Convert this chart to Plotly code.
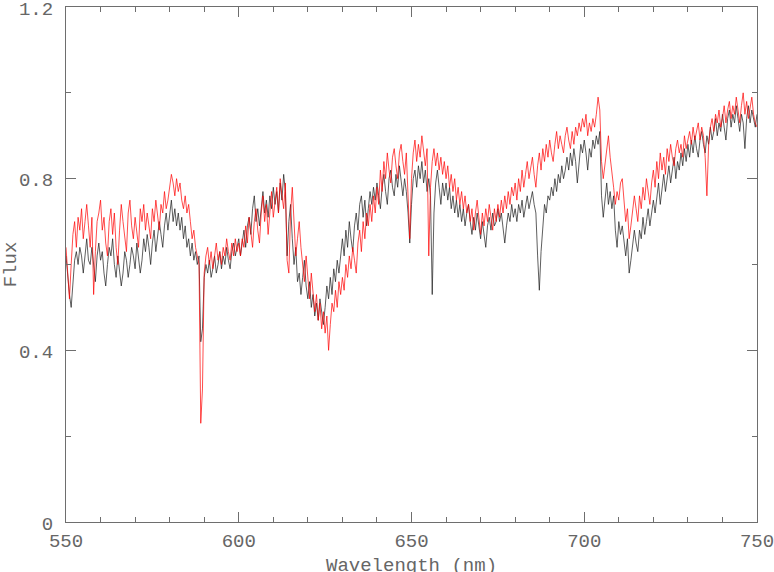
import numpy as np
import plotly.graph_objects as go

# wavelength grid (nm), 0.5 nm sampling
wavelength = np.arange(550, 750.25, 0.5)

# observed spectrum (black)
flux_obs = [
    0.62, 0.57, 0.53, 0.50, 0.55, 0.61, 0.63, 0.60, 0.64, 0.62,
    0.58, 0.63, 0.66, 0.61, 0.60, 0.64, 0.59, 0.56, 0.62, 0.65,
    0.61, 0.63, 0.58, 0.55, 0.60, 0.64, 0.62, 0.66, 0.60, 0.57,
    0.62, 0.59, 0.55, 0.58, 0.63, 0.61, 0.57, 0.60, 0.64, 0.62,
    0.59, 0.65, 0.62, 0.58, 0.61, 0.66, 0.63, 0.67, 0.64, 0.60,
    0.65, 0.68, 0.63, 0.66, 0.70, 0.67, 0.64, 0.69, 0.72, 0.68,
    0.71, 0.75, 0.70, 0.73, 0.69, 0.72, 0.68, 0.71, 0.66, 0.69,
    0.64, 0.66, 0.62, 0.65, 0.61, 0.63, 0.60, 0.62, 0.42, 0.45,
    0.57, 0.60, 0.58, 0.61, 0.57, 0.59, 0.62, 0.58, 0.60, 0.63,
    0.59, 0.62, 0.60, 0.64, 0.61, 0.59, 0.63, 0.65, 0.62, 0.64,
    0.66, 0.62, 0.65, 0.68, 0.64, 0.69, 0.71, 0.67, 0.73, 0.76,
    0.70, 0.73, 0.69, 0.74, 0.77, 0.72, 0.75, 0.71, 0.76, 0.73,
    0.78, 0.74, 0.77, 0.72, 0.79, 0.75, 0.81, 0.77, 0.62, 0.70,
    0.74, 0.66, 0.60, 0.64, 0.56, 0.58, 0.53, 0.57, 0.61, 0.55,
    0.52, 0.56, 0.50, 0.53, 0.48, 0.51, 0.47, 0.52, 0.49, 0.46,
    0.50, 0.55, 0.52, 0.57, 0.53, 0.59, 0.56, 0.61, 0.58, 0.63,
    0.66, 0.62, 0.68, 0.64, 0.70, 0.66, 0.63, 0.69, 0.72, 0.68,
    0.74, 0.76, 0.71, 0.75, 0.69, 0.73, 0.77, 0.74, 0.78, 0.75,
    0.79, 0.76, 0.73, 0.78, 0.81, 0.77, 0.74, 0.80, 0.82, 0.78,
    0.76, 0.81, 0.78, 0.83, 0.79, 0.76, 0.80, 0.77, 0.72, 0.65,
    0.74, 0.80, 0.82, 0.78, 0.83, 0.80, 0.84, 0.79, 0.82, 0.77,
    0.80, 0.76, 0.53, 0.72, 0.79, 0.82, 0.78, 0.74, 0.79, 0.76,
    0.79, 0.75, 0.78, 0.73, 0.76, 0.72, 0.75, 0.71, 0.74, 0.70,
    0.73, 0.69, 0.72, 0.74, 0.70, 0.67, 0.71, 0.68, 0.72, 0.69,
    0.66, 0.70, 0.67, 0.64, 0.69, 0.71, 0.68, 0.72, 0.69, 0.70,
    0.73, 0.70, 0.72, 0.68, 0.65, 0.69, 0.72, 0.70, 0.74, 0.71,
    0.73, 0.70, 0.74, 0.72, 0.75, 0.71, 0.74, 0.76, 0.73, 0.75,
    0.77, 0.74, 0.72, 0.62, 0.54, 0.63, 0.70, 0.74, 0.72, 0.76,
    0.75, 0.78, 0.76, 0.80, 0.77, 0.81, 0.79, 0.83, 0.80, 0.82,
    0.85, 0.82, 0.86, 0.83, 0.87, 0.84, 0.79, 0.83, 0.88, 0.86,
    0.89, 0.86, 0.82, 0.87, 0.85, 0.89, 0.87, 0.90, 0.88, 0.91,
    0.76, 0.71, 0.75, 0.79, 0.74, 0.77, 0.73, 0.76, 0.68, 0.64,
    0.70, 0.67, 0.69, 0.65, 0.62, 0.66, 0.58, 0.61, 0.64, 0.68,
    0.65, 0.63, 0.68, 0.66, 0.71, 0.67, 0.70, 0.73, 0.69, 0.72,
    0.75, 0.72, 0.76, 0.79, 0.74, 0.78, 0.81, 0.77, 0.80, 0.83,
    0.79, 0.82, 0.85, 0.80, 0.84, 0.82, 0.86, 0.83, 0.87, 0.84,
    0.88, 0.85, 0.89, 0.86, 0.90, 0.87, 0.85, 0.89, 0.91, 0.88,
    0.86, 0.90, 0.88, 0.92, 0.89, 0.91, 0.94, 0.90, 0.93, 0.91,
    0.95, 0.92, 0.89, 0.94, 0.96, 0.92, 0.95, 0.93, 0.97, 0.94,
    0.91, 0.95, 0.93, 0.87, 0.94, 0.97, 0.93, 0.96, 0.94, 0.92,
    0.95,
]

# model spectrum (red)
flux_model = [
    0.64, 0.58, 0.52, 0.60, 0.67, 0.70, 0.64, 0.71, 0.68, 0.73,
    0.66, 0.70, 0.74, 0.69, 0.64, 0.71, 0.53, 0.63, 0.70, 0.72,
    0.75, 0.68, 0.71, 0.65, 0.62, 0.70, 0.73, 0.67, 0.72, 0.64,
    0.60, 0.68, 0.74, 0.70, 0.66, 0.63, 0.72, 0.75, 0.69, 0.66,
    0.71, 0.67, 0.64, 0.73, 0.70, 0.74, 0.68, 0.72, 0.69, 0.66,
    0.73, 0.70, 0.75, 0.71, 0.68, 0.74, 0.72, 0.77, 0.73, 0.75,
    0.78, 0.81, 0.79, 0.76, 0.80, 0.77, 0.79, 0.75, 0.73, 0.76,
    0.72, 0.74, 0.70, 0.66, 0.68, 0.64, 0.62, 0.60, 0.23, 0.31,
    0.58, 0.62, 0.64, 0.60, 0.63, 0.59, 0.62, 0.65, 0.61, 0.63,
    0.60, 0.64, 0.62, 0.66, 0.63, 0.61, 0.65, 0.62, 0.66, 0.63,
    0.65, 0.62, 0.66, 0.64, 0.69, 0.65, 0.71, 0.67, 0.64, 0.70,
    0.73, 0.68, 0.65, 0.72, 0.76, 0.70, 0.74, 0.67, 0.73, 0.77,
    0.71, 0.75, 0.78, 0.72, 0.80, 0.76, 0.73, 0.79, 0.61, 0.58,
    0.72, 0.78, 0.68, 0.62, 0.66, 0.70, 0.64, 0.60, 0.56, 0.62,
    0.57, 0.52, 0.58, 0.54, 0.49, 0.53, 0.47, 0.51, 0.45, 0.49,
    0.44, 0.48, 0.40, 0.46, 0.51, 0.49, 0.54, 0.50, 0.56, 0.53,
    0.57, 0.54, 0.60, 0.57, 0.62, 0.59, 0.64, 0.61, 0.58, 0.65,
    0.68, 0.63, 0.70, 0.66, 0.72, 0.69, 0.74, 0.70, 0.76, 0.72,
    0.78, 0.74, 0.82, 0.77, 0.84, 0.80, 0.86, 0.82, 0.79, 0.85,
    0.87, 0.83, 0.80, 0.86, 0.88, 0.84, 0.81, 0.86, 0.74, 0.66,
    0.80, 0.86, 0.89, 0.84, 0.88, 0.85, 0.90, 0.86, 0.83, 0.87,
    0.62, 0.78, 0.84, 0.87, 0.83, 0.86, 0.82, 0.85, 0.81, 0.84,
    0.80, 0.83, 0.78, 0.81, 0.77, 0.80, 0.75, 0.78, 0.74, 0.77,
    0.73, 0.76, 0.72, 0.74, 0.70, 0.73, 0.68, 0.72, 0.75, 0.71,
    0.67, 0.72, 0.69, 0.73, 0.70, 0.74, 0.71, 0.68, 0.73, 0.70,
    0.74, 0.71, 0.75, 0.72, 0.76, 0.73, 0.77, 0.74, 0.78, 0.76,
    0.79, 0.75, 0.80, 0.77, 0.82, 0.78, 0.81, 0.84, 0.80, 0.83,
    0.85, 0.81, 0.78, 0.83, 0.86, 0.82, 0.87, 0.84, 0.88, 0.85,
    0.89, 0.86, 0.84, 0.88, 0.91, 0.87, 0.90, 0.88, 0.86, 0.90,
    0.92, 0.89, 0.87, 0.91, 0.88, 0.92, 0.90, 0.93, 0.91, 0.94,
    0.92, 0.95, 0.90, 0.93, 0.91, 0.94, 0.92, 0.95, 0.99, 0.96,
    0.84, 0.80, 0.83, 0.86, 0.90, 0.85, 0.82, 0.78, 0.74, 0.77,
    0.75, 0.79, 0.80, 0.74, 0.70, 0.73, 0.66, 0.69, 0.72, 0.76,
    0.73, 0.70, 0.76, 0.73, 0.78, 0.75, 0.80, 0.77, 0.74, 0.79,
    0.82, 0.78, 0.84, 0.80, 0.86, 0.82, 0.85, 0.81, 0.87, 0.84,
    0.88, 0.85, 0.83, 0.87, 0.89, 0.86, 0.88, 0.85, 0.90, 0.87,
    0.89, 0.91, 0.88, 0.92, 0.89, 0.91, 0.93, 0.89, 0.92, 0.90,
    0.85, 0.76, 0.88, 0.92, 0.94, 0.91, 0.95, 0.93, 0.96, 0.92,
    0.94, 0.97, 0.93, 0.96, 0.98, 0.94, 0.97, 0.95, 0.99, 0.96,
    0.93, 0.97, 1.00, 0.95, 0.98, 0.94, 0.97, 0.99, 0.95, 0.93,
    0.92,
]

AXIS_GREY = "#6e6e6e"
FONT = dict(family="Liberation Mono, Courier New, monospace", size=19, color="#666666")

fig = go.Figure()

fig.add_trace(go.Scatter(
    x=wavelength, y=flux_obs,
    mode="lines", line=dict(color="#1a1a1a", width=0.7),
    showlegend=False, hoverinfo="skip",
))
fig.add_trace(go.Scatter(
    x=wavelength, y=flux_model,
    mode="lines", line=dict(color="red", width=0.7),
    showlegend=False, hoverinfo="skip",
))

axis_common = dict(
    showline=True, linecolor=AXIS_GREY, linewidth=1,
    mirror="allticks", ticks="inside", tickcolor=AXIS_GREY,
    ticklen=10, tickwidth=1, showgrid=False, zeroline=False,
    tickfont=FONT, automargin=False, ticklabeloverflow="allow",
)

fig.update_xaxes(
    range=[550, 750], tickvals=[550, 600, 650, 700, 750],
    minor=dict(dtick=10, ticks="inside", ticklen=5, tickcolor=AXIS_GREY),
    ticklabelstandoff=1,
    **axis_common,
)
fig.update_yaxes(
    range=[0, 1.2], tickvals=[0, 0.4, 0.8, 1.2], ticktext=["0", "0.4", "0.8", "1.2"],
    minor=dict(dtick=0.2, ticks="inside", ticklen=5, tickcolor=AXIS_GREY),
    title=dict(text="Flux", font=FONT, standoff=8),
    ticklabelstandoff=8, ticklabelshift=1,
    **axis_common,
)

# x title placed as a paper annotation so it sits clear of the tick labels
fig.add_annotation(
    text="Wavelength (nm)", font=FONT,
    xref="paper", yref="paper", x=0.5, y=0,
    xanchor="center", yanchor="top", yshift=-31,
    showarrow=False,
)

fig.update_layout(
    width=774, height=572,
    margin=dict(l=66, r=17, t=7, b=50),
    plot_bgcolor="white", paper_bgcolor="white",
)

# page body has a default margin; drop it so the figure fills the window
fig.write_html(
    "out.html",
    config={"displayModeBar": False},
    post_script="document.body.style.margin='0';",
)
